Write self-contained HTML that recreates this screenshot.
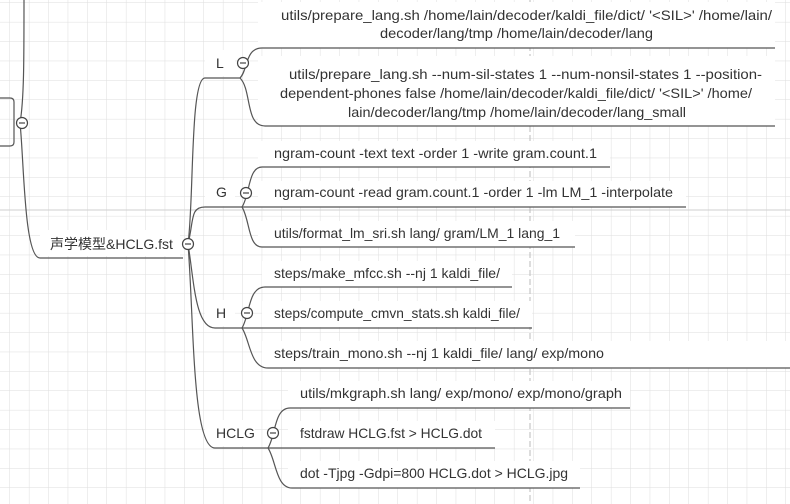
<!DOCTYPE html>
<html><head><meta charset="utf-8">
<style>
html,body{margin:0;padding:0;background:#fff;}
svg{display:block;}
text{font-family:"Liberation Sans","Noto Sans CJK SC",sans-serif;font-size:14px;fill:#333;}
</style></head><body>
<svg width="790" height="504" viewBox="0 0 790 504" xmlns="http://www.w3.org/2000/svg">
<defs>
<pattern id="g" width="19.4" height="19.4" patternUnits="userSpaceOnUse" x="10" y="3">
<path d="M19.4 0V19.4M0 19.4H19.4" stroke="#dedede" stroke-width="1" fill="none"/>
</pattern>
</defs>
<rect width="790" height="504" fill="url(#g)"/>
<line x1="0" y1="210" x2="790" y2="210" stroke="#cfcfcf"/>
<line x1="530" y1="0" x2="530" y2="504" stroke="#bbb" stroke-dasharray="6,3"/>

<g fill="#fff">
<rect x="258" y="2" width="517" height="46"/>
<rect x="258" y="56" width="517" height="70"/>
<rect x="258" y="141" width="352" height="26"/>
<rect x="258" y="181" width="428" height="26"/>
<rect x="258" y="221" width="317" height="26"/>
<rect x="262" y="261" width="250" height="26"/>
<rect x="262" y="301" width="270" height="26"/>
<rect x="262" y="341" width="528" height="27"/>
<rect x="288" y="381" width="342" height="27"/>
<rect x="288" y="421" width="207" height="27"/>
<rect x="288" y="461" width="292" height="27"/>
<rect x="205" y="50" width="30" height="26" />
<rect x="205" y="180" width="30" height="26" />
<rect x="205" y="300" width="30" height="26" />
<rect x="205" y="420" width="50" height="26" />
<rect x="40" y="230" width="140" height="26" />
</g>

<g stroke="#555" stroke-width="1.2" fill="none">
<path d="M-5 98H10Q14 98 14 102V142Q14 146 10 146H-5"/>
<path d="M24 0C24 60 24 100 20 123C24 160 24 258 40 258H183"/>
<path d="M188 244C194 200 190 78 205 78H240"/>
<path d="M188 244C194 220 190 207 205 207H240"/>
<path d="M188 244C194 280 195 328 215 328H242"/>
<path d="M188 244C194 320 192 448 215 448H268"/>
<path d="M240 78C248 70 245 48 262 48H775"/>
<path d="M240 78C252 90 245 126 265 126H775"/>
<path d="M242 207C250 195 248 167 262 167H610"/>
<path d="M240 207H686"/>
<path d="M242 207C250 220 248 247 262 247H575"/>
<path d="M242 328C250 315 248 287 265 287H512"/>
<path d="M242 328H532"/>
<path d="M242 328C250 340 250 368 268 368H790"/>
<path d="M268 448C276 435 274 408 290 408H630"/>
<path d="M268 448H495"/>
<path d="M268 448C276 460 276 488 292 488H580"/>
</g>

<g stroke="#444" stroke-width="1.2" fill="#fff">
<circle cx="22" cy="123" r="5.5"/>
<circle cx="188" cy="244" r="5.5"/>
<circle cx="243" cy="63" r="5.5"/>
<circle cx="246" cy="193" r="5.5"/>
<circle cx="247" cy="313" r="5.5"/>
<circle cx="273" cy="433" r="5.5"/>
</g>
<g stroke="#444" stroke-width="1.2">
<line x1="19" y1="123" x2="25" y2="123"/>
<line x1="185" y1="244" x2="191" y2="244"/>
<line x1="240" y1="63" x2="246" y2="63"/>
<line x1="243" y1="193" x2="249" y2="193"/>
<line x1="244" y1="313" x2="250" y2="313"/>
<line x1="270" y1="433" x2="276" y2="433"/>
</g>

<text x="50" y="249" font-size="13.5">声学模型&amp;HCLG.fst</text>
<text x="216" y="68">L</text>
<text x="216" y="197">G</text>
<text x="216" y="318">H</text>
<text x="216" y="438">HCLG</text>

<text x="281" y="20" textLength="491" lengthAdjust="spacingAndGlyphs">utils/prepare_lang.sh /home/lain/decoder/kaldi_file/dict/ '&lt;SIL&gt;' /home/lain/</text>
<text x="380" y="38" textLength="273" lengthAdjust="spacingAndGlyphs">decoder/lang/tmp /home/lain/decoder/lang</text>
<text x="289" y="79" textLength="473" lengthAdjust="spacingAndGlyphs">utils/prepare_lang.sh --num-sil-states 1 --num-nonsil-states 1 --position-</text>
<text x="280" y="98" textLength="472" lengthAdjust="spacingAndGlyphs">dependent-phones false /home/lain/decoder/kaldi_file/dict/ '&lt;SIL&gt;' /home/</text>
<text x="348" y="117" textLength="338" lengthAdjust="spacingAndGlyphs">lain/decoder/lang/tmp /home/lain/decoder/lang_small</text>
<text x="274" y="158" textLength="323" lengthAdjust="spacingAndGlyphs">ngram-count -text text -order 1 -write gram.count.1</text>
<text x="274" y="197" textLength="399" lengthAdjust="spacingAndGlyphs">ngram-count -read gram.count.1 -order 1 -lm LM_1 -interpolate</text>
<text x="274" y="238" textLength="286" lengthAdjust="spacingAndGlyphs">utils/format_lm_sri.sh lang/ gram/LM_1 lang_1</text>
<text x="274" y="278" textLength="226" lengthAdjust="spacingAndGlyphs">steps/make_mfcc.sh --nj 1 kaldi_file/</text>
<text x="274" y="318" textLength="246" lengthAdjust="spacingAndGlyphs">steps/compute_cmvn_stats.sh kaldi_file/</text>
<text x="274" y="358" textLength="330" lengthAdjust="spacingAndGlyphs">steps/train_mono.sh --nj 1 kaldi_file/ lang/ exp/mono</text>
<text x="300" y="398" textLength="322" lengthAdjust="spacingAndGlyphs">utils/mkgraph.sh lang/ exp/mono/ exp/mono/graph</text>
<text x="300" y="438" textLength="182" lengthAdjust="spacingAndGlyphs">fstdraw HCLG.fst &gt; HCLG.dot</text>
<text x="300" y="478" textLength="268" lengthAdjust="spacingAndGlyphs">dot -Tjpg -Gdpi=800 HCLG.dot &gt; HCLG.jpg</text>
</svg>
</body></html>
